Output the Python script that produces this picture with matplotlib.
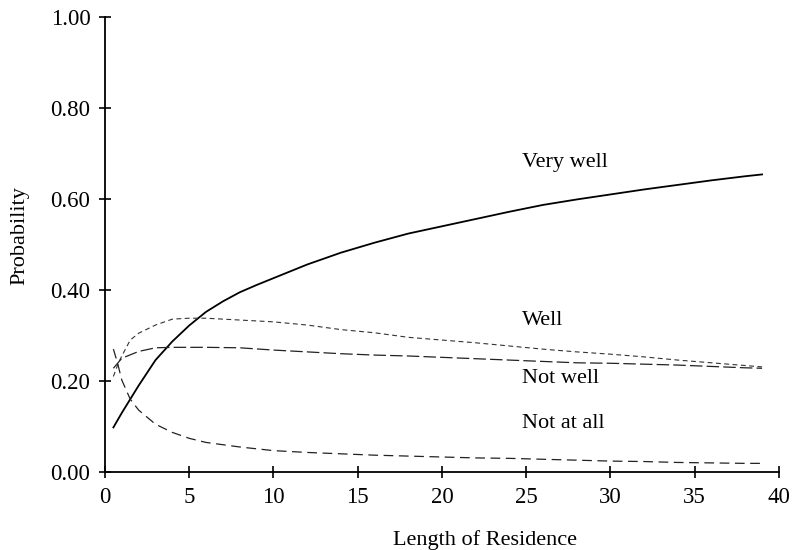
import matplotlib
matplotlib.use('Agg')
import matplotlib.pyplot as plt

plt.rcParams['font.family'] = ['Liberation Serif', 'DejaVu Serif']
plt.rcParams['lines.scale_dashes'] = False

# data
very_well_x = [0.5, 1, 2, 3, 4, 5, 6, 7, 8, 9, 10, 12, 14, 16, 18, 20, 22, 24, 26, 28, 30, 32, 34, 36, 38, 39]
very_well_y = [0.098, 0.13, 0.19, 0.246, 0.287, 0.322, 0.352, 0.375, 0.395, 0.411, 0.426, 0.456, 0.482, 0.504,
               0.524, 0.540, 0.556, 0.572, 0.587, 0.599, 0.610, 0.621, 0.631, 0.641, 0.650, 0.654]

well_x = [0.5, 0.8, 1, 1.5, 2, 3, 4, 5, 6, 8, 10, 12, 14, 16, 18, 20, 22, 24, 26, 28, 30, 32, 34, 36, 38, 39]
well_y = [0.21, 0.24, 0.255, 0.29, 0.305, 0.323, 0.336, 0.338, 0.338, 0.334, 0.330, 0.323, 0.313, 0.306,
          0.296, 0.290, 0.284, 0.277, 0.270, 0.264, 0.259, 0.253, 0.246, 0.240, 0.234, 0.231]

not_well_x = [0.5, 1, 2, 3, 4, 6, 8, 10, 12, 14, 16, 18, 20, 22, 24, 26, 28, 30, 32, 34, 36, 38, 39]
not_well_y = [0.228, 0.250, 0.265, 0.273, 0.274, 0.274, 0.273, 0.268, 0.264, 0.260, 0.257, 0.255, 0.252,
              0.249, 0.246, 0.243, 0.240, 0.239, 0.237, 0.235, 0.232, 0.229, 0.228]

not_at_all_x = [0.5, 0.75, 1, 1.5, 2, 3, 4, 5, 6, 8, 10, 12, 14, 16, 18, 20, 22, 24, 26, 28, 30, 32, 34, 36, 38, 39]
not_at_all_y = [0.27, 0.239, 0.202, 0.16, 0.136, 0.105, 0.087, 0.074, 0.065, 0.055, 0.047, 0.043, 0.040, 0.037,
                0.035, 0.033, 0.031, 0.030, 0.028, 0.026, 0.024, 0.023, 0.021, 0.020, 0.019, 0.019]

fig = plt.figure(figsize=(7.97, 5.50), dpi=100)
ax = fig.add_axes([0.1317, 0.1418, 0.8456, 0.8273])

ax.plot(very_well_x, very_well_y, color='black', lw=1.3)
ax.plot(well_x, well_y, color='#333333', lw=0.8, dashes=(3.5, 2.5))
ax.plot(not_well_x, not_well_y, color='#222222', lw=0.9, dashes=(9, 3))
ax.plot(not_at_all_x, not_at_all_y, color='#222222', lw=0.9, dashes=(7, 4))

ax.text(24.75, 0.68, 'Very well', fontsize=16, va='center')
ax.text(24.75, 0.334, 'Well', fontsize=16, va='center')
ax.text(24.75, 0.205, 'Not well', fontsize=16, va='center')
ax.text(24.75, 0.106, 'Not at all', fontsize=16, va='center')

ax.set_xlim(0, 40)
ax.set_ylim(0, 1)
ax.set_xticks(range(0, 41, 5))
ax.set_yticks([0, 0.2, 0.4, 0.6, 0.8, 1.0])
ax.set_yticklabels(['0.00', '0.20', '0.40', '0.60', '0.80', '1.00'])
ax.tick_params(direction='inout', length=9, width=1.2, labelsize=16.5, pad=6)
for s in ['top', 'right']:
    ax.spines[s].set_visible(False)
for s in ['left', 'bottom']:
    ax.spines[s].set_linewidth(1.3)

ax.set_xlabel('Length of Residence', fontsize=16)
ax.set_ylabel('Probability', fontsize=16)
ax.xaxis.set_label_coords(0.564, -0.128)
ax.yaxis.set_label_coords(-0.112, 0.52)

fig.savefig('out.png', dpi=100)
